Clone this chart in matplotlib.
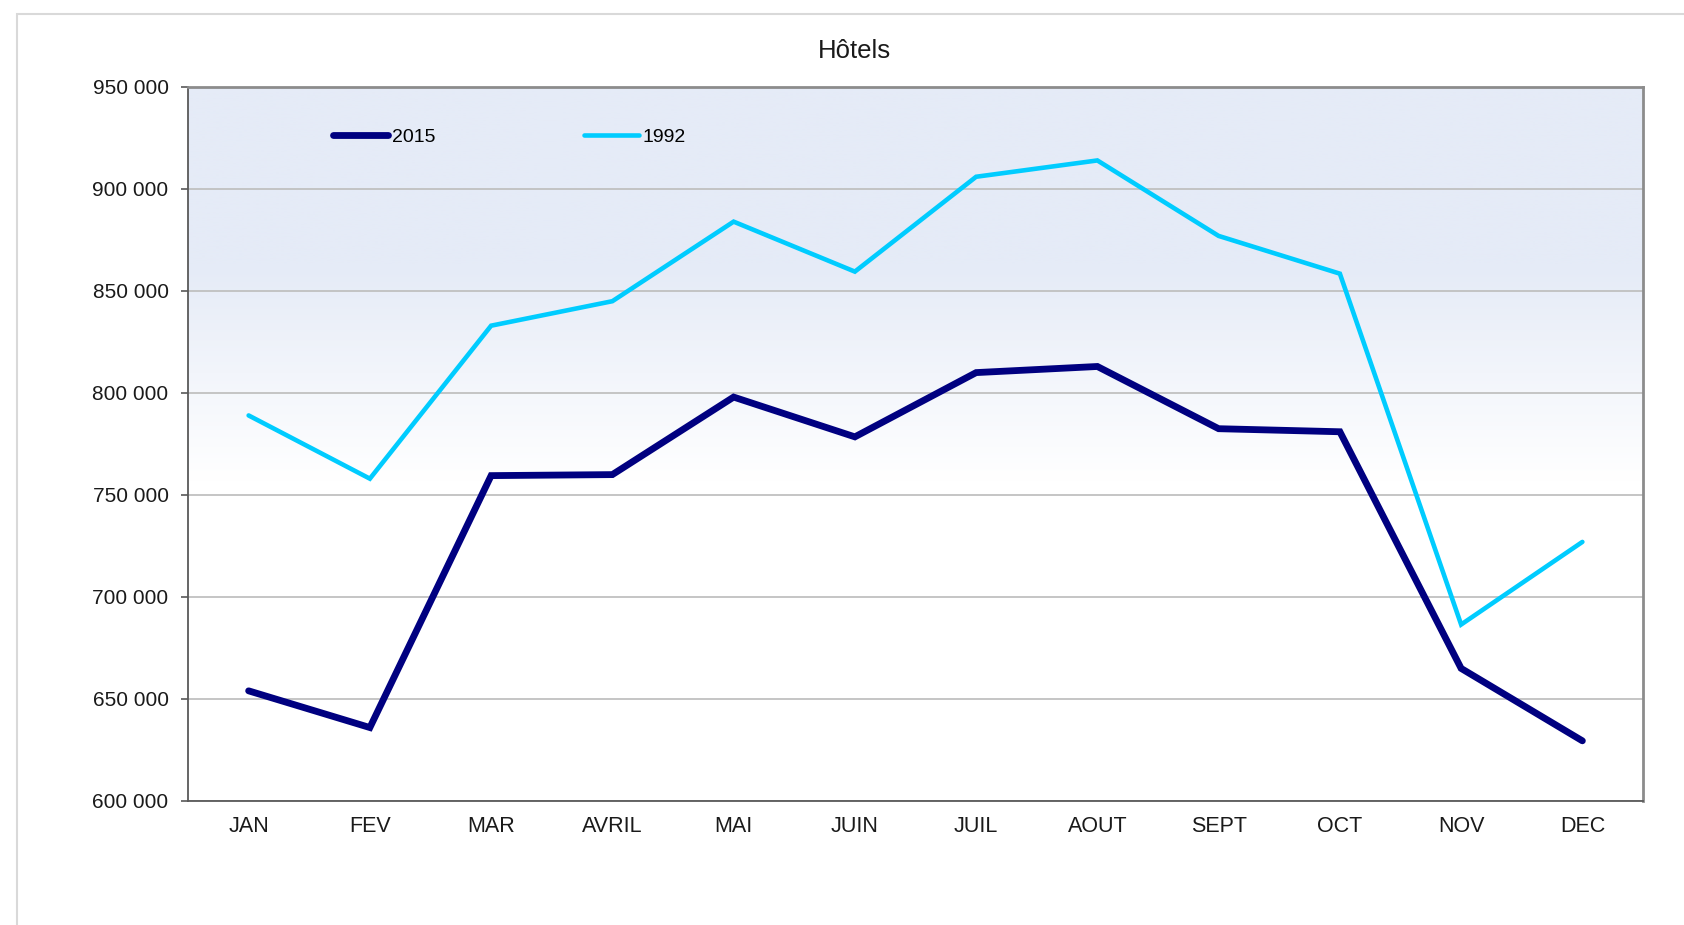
import numpy as np
import matplotlib
matplotlib.use("Agg")
import matplotlib.pyplot as plt
import matplotlib.patches as patches

plt.rcParams['font.family'] = ['Liberation Sans', 'DejaVu Sans']

# données (nuitées hôtels)
mois = ['JAN', 'FEV', 'MAR', 'AVRIL', 'MAI', 'JUIN', 'JUIL', 'AOUT', 'SEPT', 'OCT', 'NOV', 'DEC']
v2015 = [654000, 636000, 759500, 760000, 798000, 778500, 810000, 813000, 782500, 781000, 665000, 629500]
v1992 = [789000, 758000, 833000, 845000, 884000, 859500, 906000, 914000, 877000, 858500, 686500, 727000]
yticks = [600000, 650000, 700000, 750000, 800000, 850000, 900000, 950000]

fig = plt.figure(figsize=(16.84, 9.25), dpi=100)
ax = fig.add_axes([188/1684, 1-801/925, (1643-188)/1684, (801-87)/925])

# cadre extérieur gris clair
fig.patches.append(patches.Rectangle((17/1684, -0.05), 1.1, 1-14/925+0.05,
                                     transform=fig.transFigure, fill=False,
                                     edgecolor='#d9d9d9', linewidth=1.5, zorder=0))

# fond dégradé bleu -> blanc
n = 300
t = np.linspace(0, 1, n)
a = np.clip((t - 0.25) / (0.55 - 0.25), 0, 1)
top = np.array([229, 235, 247]) / 255.0
grad = top[None, :] * (1 - a[:, None]) + np.ones(3)[None, :] * a[:, None]
img = np.repeat(grad[:, None, :], 2, axis=1)
ax.imshow(img, extent=(-0.5, 11.5, 600000, 950000), aspect='auto', origin='upper', zorder=0)

x = np.arange(len(mois))
ax.plot(x, v2015, color='#000080', lw=4.9, solid_capstyle='round', solid_joinstyle='miter', label='2015', zorder=3)
ax.plot(x, v1992, color='#00ccff', lw=3.3, solid_capstyle='round', solid_joinstyle='miter', label='1992', zorder=3)

ax.set_xlim(-0.5, 11.5)
ax.set_ylim(600000, 950000)
ax.set_yticks(yticks)
ax.set_yticklabels([f"{v:,}".replace(',', ' ') for v in yticks])
ax.set_xticks(x)
ax.set_xticklabels(mois)
ax.tick_params(axis='y', length=5, width=1.2, color='#595959', pad=9, labelsize=15, labelcolor='#1a1a1a')
ax.tick_params(axis='x', length=0, pad=11, labelsize=15.5, labelcolor='#1a1a1a')
ax.yaxis.grid(True, color='#c0c0c0', lw=1.3, zorder=1)
ax.set_axisbelow(True)

for s in ['left', 'bottom']:
    ax.spines[s].set_color('#595959')
    ax.spines[s].set_linewidth(1.3)
for s in ['top', 'right']:
    ax.spines[s].set_color('#8c8c8c')
    ax.spines[s].set_linewidth(2)

fig.text(854/1684, 1-51/925, 'Hôtels', fontsize=18.5, ha='center', va='center', color='#1a1a1a')

ax.legend(loc='center left', bbox_to_anchor=(0.0996, 0.930), ncol=2, frameon=False,
          fontsize=14, handlelength=2.85, handletextpad=0.2, columnspacing=7.6,
          borderpad=0, borderaxespad=0)

fig.savefig('out.png', dpi=100)
